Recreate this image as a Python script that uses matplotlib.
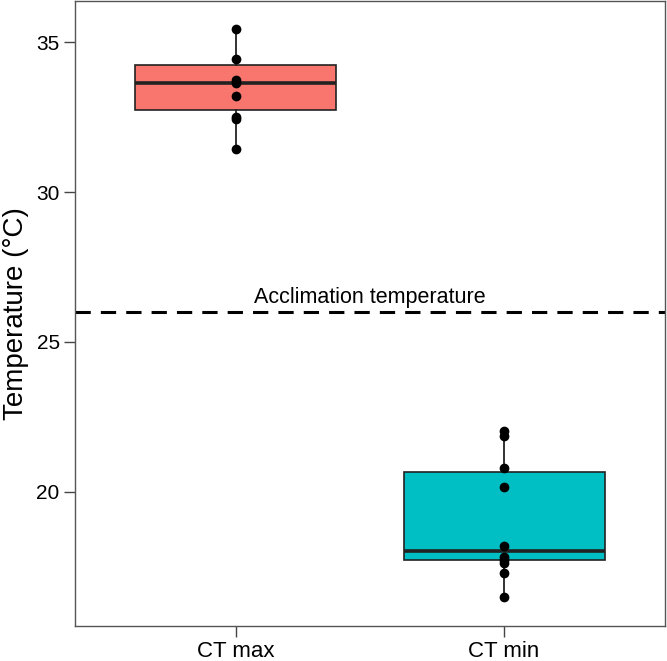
import matplotlib
matplotlib.use("Agg")
import matplotlib.pyplot as plt

# categories and data points
groups = ["CT max", "CT min"]
ct_max = [31.42, 32.42, 32.51, 33.21, 33.64, 33.73, 34.42, 35.42]
ct_min = [16.49, 17.29, 17.62, 17.73, 17.84, 18.20, 20.18, 20.79, 21.88, 22.03]

# box summaries as drawn in the picture
q1 = [32.73, 17.73]
med = [33.62, 18.04]
q3 = [34.23, 20.66]
whislo = [31.42, 16.49]
whishi = [35.42, 22.03]

box_colors = ["#F8766D", "#00BFC4"]
acclimation = 26.0

plt.rcParams["font.family"] = ["Liberation Sans", "DejaVu Sans"]

fig = plt.figure(figsize=(6.67, 6.61), dpi=100)
ax = fig.add_axes([0.1124, 0.053, 0.8846, 0.9455])

stats = []
for i, g in enumerate(groups):
    stats.append({"label": g, "q1": q1[i], "med": med[i], "q3": q3[i],
                  "whislo": whislo[i], "whishi": whishi[i], "fliers": []})

bp = ax.bxp(stats, positions=[1, 2], widths=0.75, patch_artist=True,
            showcaps=False, showfliers=False,
            boxprops=dict(edgecolor="#222222", linewidth=1.2),
            whiskerprops=dict(color="#222222", linewidth=1.3),
            medianprops=dict(color="#222222", linewidth=2.6))
for patch, c in zip(bp["boxes"], box_colors):
    patch.set_facecolor(c)

# the individual points
for i, vals in enumerate([ct_max, ct_min]):
    ax.scatter([i + 1] * len(vals), vals, s=36, color="black", zorder=5)

ax.axhline(acclimation, color="black", linewidth=2.2, dashes=(5, 3.3), zorder=1)
ax.text(1.5, acclimation + 0.3, "Acclimation temperature", ha="center",
        va="baseline", fontsize=15.5)

ax.set_xlim(0.4, 2.6)
ax.set_ylim(15.53, 36.37)
ax.set_yticks([20, 25, 30, 35])
ax.set_xticks([1, 2])
ax.set_xticklabels(groups)
ax.set_ylabel("Temperature (°C)", fontsize=20)
ax.yaxis.set_label_coords(-0.078, 0.5)
ax.tick_params(length=8, width=1, color="#444444", pad=3)
ax.tick_params(axis="y", labelsize=15)
ax.tick_params(axis="x", labelsize=16)

for sp in ax.spines.values():
    sp.set_color("#555555")
    sp.set_linewidth(1.0)

fig.savefig("out.png", dpi=100)
